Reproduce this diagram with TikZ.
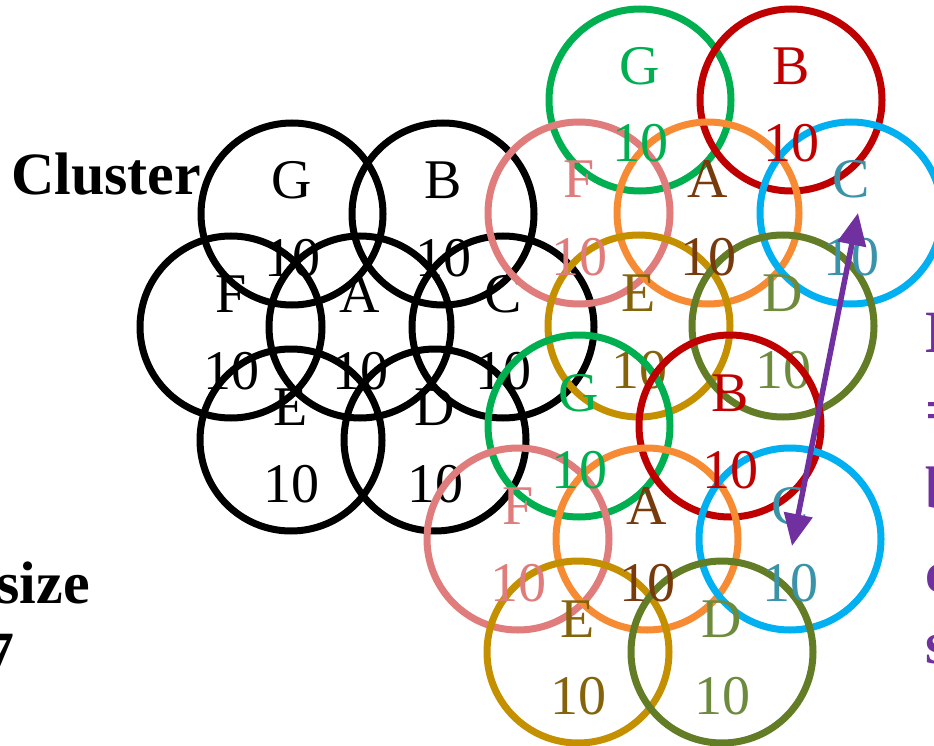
\documentclass[tikz,border=0pt]{standalone}
\usepackage{fontspec}
\setmainfont{Liberation Serif}
\usetikzlibrary{arrows.meta}
% ring colours (c = coloured clusters, k = black cluster)
\definecolor{cringG}{HTML}{00B050}
\definecolor{cringB}{HTML}{C00000}
\definecolor{cringF}{HTML}{E07C7C}
\definecolor{cringA}{HTML}{F78B33}
\definecolor{cringC}{HTML}{00B0F0}
\definecolor{cringE}{HTML}{C59000}
\definecolor{cringD}{HTML}{627D26}
\definecolor{ctxtG}{HTML}{00B050}
\definecolor{ctxtB}{HTML}{C00000}
\definecolor{ctxtF}{HTML}{E07C7C}
\definecolor{ctxtA}{HTML}{773A0C}
\definecolor{ctxtC}{HTML}{3A93A8}
\definecolor{ctxtE}{HTML}{84630A}
\definecolor{ctxtD}{HTML}{6E8B3D}
\colorlet{kringG}{black}\colorlet{kringB}{black}\colorlet{kringF}{black}
\colorlet{kringA}{black}\colorlet{kringC}{black}\colorlet{kringE}{black}
\colorlet{kringD}{black}
\colorlet{ktxtG}{black}\colorlet{ktxtB}{black}\colorlet{ktxtF}{black}
\colorlet{ktxtA}{black}\colorlet{ktxtC}{black}\colorlet{ktxtE}{black}
\colorlet{ktxtD}{black}
\definecolor{arrowpurple}{HTML}{7030A0}
\newcommand\drawcluster[4]{%
  % #1 name prefix, #2 x of A, #3 y of A, #4 colour set
  \foreach \L/\dx/\dy in {G/-68/-113, B/83/-113, F/-129/0, A/0/0, C/143/0, E/-69/113, D/75/113}{
    \node[ring, draw=#4ring\L] (#1\L) at (#2+\dx, #3+\dy) {};
  }
  \foreach \L/\dx/\dy in {G/-68/-113, B/83/-113, F/-129/0, A/0/0, C/143/0, E/-69/113, D/75/113}{
    \node[lbl, text=#4txt\L] (#1\L name) at (#2+\dx, #3+\dy-15) {\L};
    \node[lbl, text=#4txt\L] (#1\L size) at (#2+\dx, #3+\dy+62) {10};
  }
}
\begin{document}
\begin{tikzpicture}[x=1pt,y=-1pt,
  ring/.style={circle, line width=7pt, minimum size=182pt, inner sep=0pt},
  lbl/.style={font=\fontsize{56}{56}\selectfont, anchor=base, inner sep=0pt},
  boldtxt/.style={font=\fontsize{60}{60}\selectfont\bfseries, inner sep=0pt},
  purpletxt/.style={boldtxt, text=arrowpurple, anchor=base west},
  link/.style={draw=arrowpurple, line width=5.5pt,
    {Triangle[length=32pt,width=28pt]}-{Triangle[length=32pt,width=28pt]}}]
\useasboundingbox (0,0) rectangle (934,746);
\clip (0,0) rectangle (934,746);
\fill[white] (0,0) rectangle (934,746);
\drawcluster{k}{360}{327}{k}
\drawcluster{t}{708}{213}{c}
\drawcluster{b}{647}{539}{c}
\coordinate (tipTop) at (858,213);
\coordinate (tipBot) at (792,546);
\draw[link] (tipBot) -- (tipTop);
\node[boldtxt, anchor=base west] (cluster) at (11,195) {Cluster};
\node[boldtxt, anchor=base east] (size) at (90,603) {size};
\node[boldtxt, anchor=base east] (seven) at (15,673) {7};
\node[purpletxt] (r1) at (925,352) {D};
\node[purpletxt] (r2) at (925,430) {=};
\node[purpletxt] (r3) at (925,508) {b};
\node[purpletxt] (r4) at (925,592) {c};
\node[purpletxt] (r5) at (925,663) {s};
\end{tikzpicture}
\end{document}
